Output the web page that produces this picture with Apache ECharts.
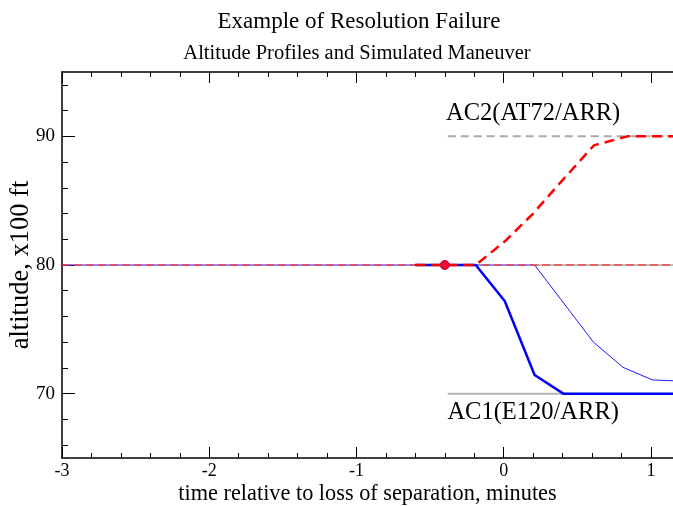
<!DOCTYPE html>
<html>
<head>
<meta charset="utf-8">
<script src="https://cdn.jsdelivr.net/npm/echarts@6/dist/echarts.min.js"></script>
<style>html,body{margin:0;padding:0;background:#fff;overflow:hidden}#c{width:673px;height:506px}</style>
</head>
<body>
<div id="c"></div>
<script>
// ---- data ----
const xTicks = [-3, -2, -1, 0, 1];
const xMinorTicks = [-2.8,-2.6,-2.4,-2.2,-1.8,-1.6,-1.4,-1.2,-0.8,-0.6,-0.4,-0.2,0.2,0.4,0.6,0.8];
const yTicks = [70, 80, 90];
const yMinorTicks = [66, 68, 72, 74, 76, 78, 82, 84, 86, 88, 92, 94];
const ac1Planned = [[-3, 80], [0.21, 80], [0.61, 74], [0.81, 72.05], [1.01, 71.07], [1.15, 71]];
const ac2Planned = [[-3, 80], [1.15, 80]];
const ac2LevelRef = [[0.21, 80], [1.15, 80]];
const ac1Maneuver = [[-0.6, 80], [-0.19, 80], [0.007, 77.2], [0.21, 71.45], [0.405, 70], [1.15, 70]];
const ac2Maneuver = [[-0.6, 80], [-0.19, 80], [0.014, 81.9], [0.2, 84.0], [0.4, 86.6], [0.613, 89.3], [0.84, 90], [1.15, 90]];
const ac2Target = [[-0.38, 90], [1.15, 90]];
const ac1Target = [[-0.38, 70], [1.15, 70]];
const lossPoint = [[-0.4, 80]];
const aircraftLabels = [
  { name: 'AC2(AT72/ARR)', value: [0.2, 91.8] },
  { name: 'AC1(E120/ARR)', value: [0.2, 68.5] }
];

const FONT = '"Liberation Serif", "DejaVu Serif", serif';
const X_MIN = -3, X_MAX = 1.15, Y_MIN = 65, Y_MAX = 95;

function xAx(pos, major, showLabels) {
  return {
    type: 'value', min: X_MIN, max: X_MAX, position: pos,
    axisLine: { show: major, onZero: false, lineStyle: { color: '#000', width: 1.5 } },
    axisTick: { show: true, inside: true, length: major ? 11 : 5,
      customValues: major ? xTicks : xMinorTicks, lineStyle: { color: '#000', width: 1 } },
    axisLabel: { show: showLabels, customValues: xTicks, fontFamily: FONT, fontSize: 18, color: '#000', margin: 4 },
    splitLine: { show: false },
    name: showLabels ? 'time relative to loss of separation, minutes' : '',
    nameLocation: 'middle', nameGap: 25, nameMoveOverlap: false,
    nameTextStyle: { fontFamily: FONT, fontSize: 22.3, color: '#000' }
  };
}
function yAx(major, showLabels) {
  return {
    type: 'value', min: Y_MIN, max: Y_MAX, position: 'left',
    axisLine: { show: major, onZero: false, lineStyle: { color: '#000', width: 1.5 } },
    axisTick: { show: true, inside: true, length: major ? 13 : 6,
      customValues: major ? yTicks : yMinorTicks, lineStyle: { color: '#000', width: 1 } },
    axisLabel: { show: showLabels, customValues: yTicks, fontFamily: FONT, fontSize: 19, color: '#000', margin: 7 },
    splitLine: { show: false },
    name: showLabels ? 'altitude, x100 ft' : '',
    nameLocation: 'middle', nameGap: 27, nameRotate: 90, nameMoveOverlap: false,
    nameTextStyle: { fontFamily: FONT, fontSize: 26.5, color: '#000' }
  };
}

const chart = echarts.init(document.getElementById('c'), null, { renderer: 'canvas' });
chart.setOption({
  animation: false,
  backgroundColor: '#fff',
  grid: { left: 62, top: 72, right: 0, bottom: 48, containLabel: false, outerBoundsMode: 'none' },
  graphic: [
    { type: 'text', x: 359, y: 22, style: { text: 'Example of Resolution Failure', font: '23px ' + FONT, fill: '#000', textAlign: 'center', textVerticalAlign: 'middle' } },
    { type: 'text', x: 357, y: 54, style: { text: 'Altitude Profiles and Simulated Maneuver', font: '20.5px ' + FONT, fill: '#000', textAlign: 'center', textVerticalAlign: 'middle' } }
  ],
  xAxis: [xAx('bottom', true, true), xAx('bottom', false, false), xAx('top', true, false), xAx('top', false, false)],
  yAxis: [yAx(true, true), yAx(false, false)],
  series: [
    { type: 'line', data: ac2LevelRef, symbol: 'none', lineStyle: { color: '#bbbbbb', width: 2 } },
    { type: 'line', data: ac2Target, symbol: 'none', lineStyle: { color: '#aaaaaa', width: 2, type: [8, 5] } },
    { type: 'line', data: ac1Target, symbol: 'none', lineStyle: { color: '#b4b4b4', width: 2 } },
    { type: 'line', data: ac1Planned, symbol: 'none', lineStyle: { color: '#1a1aff', width: 1 } },
    { type: 'line', data: ac2Planned, symbol: 'none', lineStyle: { color: '#ff3030', width: 1.6, type: [8, 4], opacity: 0.85 } },
    { type: 'line', data: ac1Maneuver, symbol: 'none', lineStyle: { color: '#0000ff', width: 2.5 } },
    { type: 'line', data: ac2Maneuver, symbol: 'none', lineStyle: { color: '#ff0000', width: 2.5, type: [10, 6] } },
    { type: 'scatter', data: lossPoint, symbol: 'circle', symbolSize: 9,
      itemStyle: { color: '#ee0a30', borderColor: '#c00040', borderWidth: 1, opacity: 1 }, z: 5 },
    { type: 'scatter', data: aircraftLabels, symbolSize: 0, itemStyle: { opacity: 1 },
      label: { show: true, position: 'inside', formatter: p => p.name,
        fontFamily: FONT, fontSize: 24.5, color: '#000', opacity: 1 } }
  ]
});
</script>
</body>
</html>
